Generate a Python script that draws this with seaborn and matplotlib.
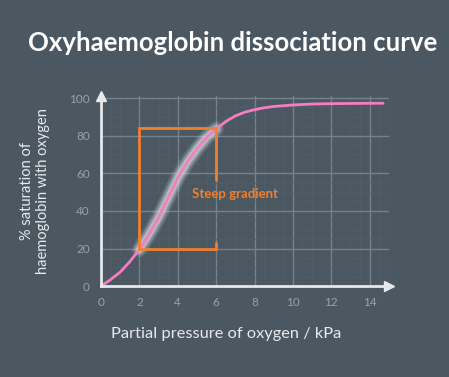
import numpy as np
import matplotlib
matplotlib.use('Agg')
import matplotlib.pyplot as plt
import seaborn as sns
import pandas as pd

# curve
po2 = [0, 0.5, 1, 1.5, 2, 2.5, 3, 3.5, 4, 4.5, 5, 5.5, 6, 6.5, 7, 7.5, 8, 8.5, 9, 10, 11, 12, 13, 14, 14.7]
sat = [0, 3.5, 7.5, 13, 19.5, 27.5, 36.5, 47, 57.5, 66, 73, 79, 83.5, 87.5, 90.5, 92.5, 93.8, 94.8, 95.5, 96.3, 96.8, 97, 97.1, 97.2, 97.2]
x_ticks = [0, 2, 4, 6, 8, 10, 12, 14]
y_ticks = [0, 20, 40, 60, 80, 100]
steep_x = (2, 6)
steep_y = (19.5, 84)

df = pd.DataFrame({'po2': po2, 'sat': sat})
steep = df[(df.po2 >= steep_x[0]) & (df.po2 <= steep_x[1])]

bg = '#4b5761'
sns.set_style('dark')
plt.rcParams['font.family'] = ['Lato', 'DejaVu Sans']

fig = plt.figure(figsize=(4.49, 3.77), dpi=100, facecolor=bg)
ax = fig.add_axes([0.225, 0.241, 0.641, 0.504])
ax.set_facecolor(bg)

ax.set_xlim(0, 15)
ax.set_ylim(0, 101)
ax.set_xticks(x_ticks)
ax.set_yticks(y_ticks)
ax.set_xticks(np.arange(0, 15.01, 0.5), minor=True)
ax.set_yticks(np.arange(0, 101, 5), minor=True)
ax.grid(True, which='major', color='#75828b', lw=1.0)
ax.grid(True, which='minor', color='#535f68', lw=0.5)
ax.tick_params(which='both', length=0, colors='#9aa3a9', labelsize=8.5, pad=8)

for s in ['top', 'right']:
    ax.spines[s].set_visible(False)
for s in ['left', 'bottom']:
    ax.spines[s].set_color('#e6e8ea')
    ax.spines[s].set_linewidth(2)
ax.plot(1, 0, '>', color='#e6e8ea', ms=7, transform=ax.get_yaxis_transform(), clip_on=False)
ax.plot(0, 1, '^', color='#e6e8ea', ms=7, transform=ax.get_xaxis_transform(), clip_on=False)

# glow around the steep part
for w, a in [(11, 0.15), (8, 0.3), (5, 0.5)]:
    sns.lineplot(data=steep, x='po2', y='sat', ax=ax, color='#dfe6e8', lw=w, alpha=a,
                 solid_capstyle='round', estimator=None, sort=False)
sns.lineplot(data=df, x='po2', y='sat', ax=ax, color='#f77cc4', lw=2, estimator=None, sort=False)

# orange bracket
oc = '#f07f2e'
ax.plot([steep_x[1], steep_x[0], steep_x[0], steep_x[1]],
        [steep_y[1], steep_y[1], steep_y[0], steep_y[0]], color=oc, lw=2, solid_joinstyle='miter')
ax.plot([steep_x[1], steep_x[1]], [steep_y[1], 56.5], color=oc, lw=2)
ax.plot([steep_x[1], steep_x[1]], [23, steep_y[0]], color=oc, lw=2)
ax.text(4.75, 49, 'Steep gradient', color=oc, fontsize=9.5, fontweight='bold', va='center', ha='left')

ax.set_xlabel('Partial pressure of oxygen / kPa', color='#e8eaec', fontsize=11.8)
ax.xaxis.set_label_coords(0.434, -0.215)
ax.set_ylabel('% saturation of\nhaemoglobin with oxygen', color='#e8eaec', fontsize=10.5, labelpad=14)
fig.text(0.517, 0.885, 'Oxyhaemoglobin dissociation curve', color='white', fontsize=18.5,
         fontweight='bold', ha='center', va='center')

fig.savefig('out.png', dpi=100, facecolor=bg)
